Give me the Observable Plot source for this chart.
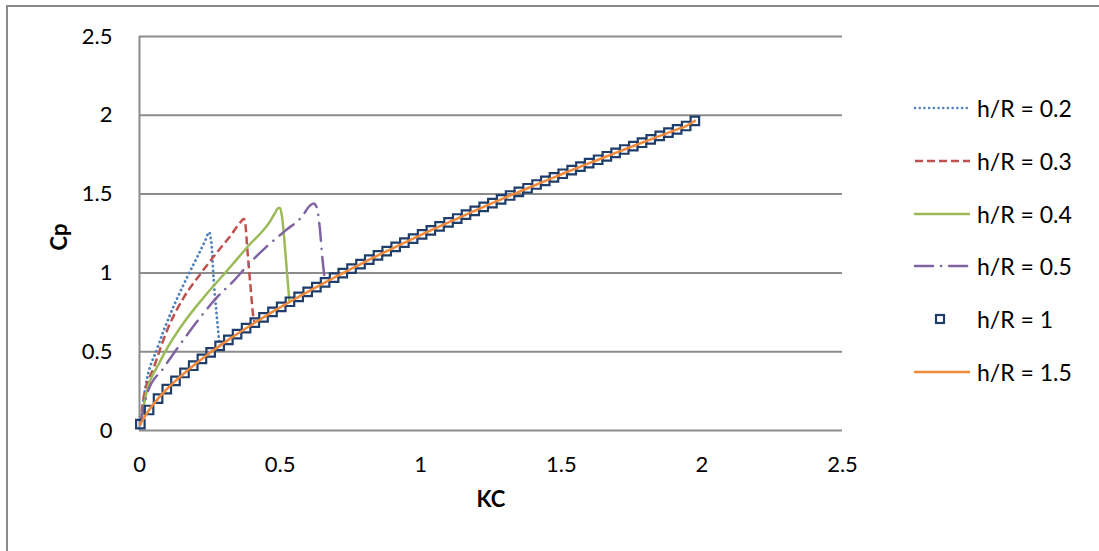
<!DOCTYPE html>
<html><head><meta charset="utf-8">
<script src="https://cdn.jsdelivr.net/npm/d3@7"></script>
<script src="https://cdn.jsdelivr.net/npm/@observablehq/plot@0.6"></script>
<style>
html,body{margin:0;padding:0;background:#fff;overflow:hidden;}
#wrap{position:relative;width:1099px;height:551px;font-family:Lato, sans-serif;}
#border{position:absolute;left:6px;top:5px;width:1200px;height:700px;border-left:2px solid #8a8a8a;border-top:2px solid #8a8a8a;pointer-events:none;}
#chart{position:absolute;left:0;top:0;}
.leg{position:absolute;left:910px;height:24px;display:flex;align-items:center;font-size:23px;color:#000;white-space:nowrap;}
.leg svg{display:block;}
.leg span{margin-left:7px;}
</style></head>
<body><div id="wrap"><div id="chart"></div><div id="legend"></div><div id="border"></div></div>
<script>
// ---- data ----
const xTicks = [0, 0.5, 1, 1.5, 2, 2.5];
const xTickLabels = ["0", "0.5", "1", "1.5", "2", "2.5"];
const yTicks = [0, 0.5, 1, 1.5, 2, 2.5];
const yTickLabels = ["0", "0.5", "1", "1.5", "2", "2.5"];

const seriesNames = ["h/R = 0.2", "h/R = 0.3", "h/R = 0.4", "h/R = 0.5", "h/R = 1", "h/R = 1.5"];

const kc02 = [0.003, 0.021, 0.063, 0.110, 0.158, 0.205, 0.235, 0.247, 0.256, 0.264, 0.274, 0.285];
const cp02 = [0.04, 0.275, 0.52, 0.74, 0.93, 1.10, 1.21, 1.258, 1.185, 0.95, 0.74, 0.537];

const kc03 = [0.003, 0.015, 0.051, 0.098, 0.158, 0.217, 0.276, 0.324, 0.359, 0.371, 0.377, 0.383, 0.395, 0.405, 0.410];
const cp03 = [0.04, 0.21, 0.40, 0.635, 0.846, 0.994, 1.131, 1.237, 1.322, 1.343, 1.30, 1.163, 0.91, 0.72, 0.682];

const kc04 = [0.003, 0.021, 0.075, 0.146, 0.229, 0.312, 0.383, 0.466, 0.482, 0.494, 0.500, 0.507, 0.520, 0.533];
const cp04 = [0.04, 0.21, 0.444, 0.655, 0.846, 1.015, 1.163, 1.332, 1.38, 1.412, 1.41, 1.354, 1.10, 0.82];

const kc05 = [0.003, 0.027, 0.087, 0.142, 0.217, 0.276, 0.335, 0.395, 0.454, 0.520, 0.579, 0.605, 0.619, 0.630, 0.642, 0.650, 0.660];
const cp05 = [0.04, 0.233, 0.40, 0.54, 0.72, 0.846, 0.95, 1.068, 1.17, 1.27, 1.36, 1.425, 1.44, 1.417, 1.27, 1.10, 0.94];

// h/R = 1 (markers) and h/R = 1.5 (line) share the same values
const kcMain = [0.003, 0.034, 0.066, 0.097, 0.128, 0.160, 0.191, 0.222, 0.253, 0.285,
  0.316, 0.347, 0.379, 0.410, 0.441, 0.473, 0.504, 0.535, 0.566, 0.598,
  0.629, 0.660, 0.692, 0.723, 0.754, 0.786, 0.817, 0.848, 0.879, 0.911,
  0.942, 0.973, 1.005, 1.036, 1.067, 1.099, 1.130, 1.161, 1.192, 1.224,
  1.255, 1.286, 1.318, 1.349, 1.380, 1.412, 1.443, 1.474, 1.505, 1.537,
  1.568, 1.599, 1.631, 1.662, 1.693, 1.724, 1.756, 1.787, 1.818, 1.850,
  1.881, 1.912, 1.944, 1.975];
const cpMain = [0.04, 0.13, 0.202, 0.262, 0.315, 0.365, 0.411, 0.454, 0.496, 0.537,
  0.575, 0.612, 0.649, 0.684, 0.718, 0.753, 0.785, 0.817, 0.848, 0.880,
  0.910, 0.940, 0.970, 0.999, 1.027, 1.056, 1.084, 1.111, 1.138, 1.165,
  1.192, 1.218, 1.244, 1.270, 1.295, 1.321, 1.345, 1.370, 1.394, 1.419,
  1.443, 1.467, 1.491, 1.514, 1.537, 1.561, 1.584, 1.606, 1.629, 1.652,
  1.674, 1.696, 1.718, 1.740, 1.762, 1.783, 1.805, 1.826, 1.847, 1.869,
  1.890, 1.911, 1.932, 1.965];

// ---- styles ----
const colors = ["#4F81BD", "#C0504D", "#9BBB59", "#8064A2", "#1F3D6B", "#F08A3A"];
const dashes = ["0.1 4.6", "8 4", null, "18 8 0.1 8", null, null];
const caps = ["round", "butt", "round", "round", "butt", "round"];

const toRows = (kc, cp) => kc.map((k, i) => ({kc: k, cp: cp[i]}));
const curves = [toRows(kc02, cp02), toRows(kc03, cp03), toRows(kc04, cp04), toRows(kc05, cp05)];
const mainRows = toRows(kcMain, cpMain);

const gridColor = "#8c8c8c";

const lineMarks = curves.map((rows, i) => Plot.line(rows, {
  x: "kc", y: "cp", stroke: colors[i], strokeWidth: i === 0 ? 2.8 : 2.5,
  strokeDasharray: dashes[i], strokeLinecap: caps[i], strokeLinejoin: "round", curve: "monotone-x"
}));

const chart = Plot.plot({
  width: 1099, height: 551,
  marginLeft: 139, marginRight: 257, marginTop: 36, marginBottom: 121,
  x: {domain: [0, 2.5]},
  y: {domain: [0, 2.5]},
  style: {fontFamily: "Lato, sans-serif", fontSize: "22px", color: "#000", background: "transparent", overflow: "visible"},
  marks: [
    Plot.ruleY(yTicks, {stroke: gridColor, strokeWidth: 2}),
    Plot.ruleX([0], {stroke: gridColor, strokeWidth: 2}),
    Plot.axisX({ticks: xTicks, tickSize: 0, tickPadding: 26, tickFormat: (d) => xTickLabels[xTicks.indexOf(d)], label: null, fontSize: 22}),
    Plot.axisY({ticks: yTicks, tickSize: 0, tickPadding: 27, tickFormat: (d) => yTickLabels[yTicks.indexOf(d)], label: null, fontSize: 22}),
    ...lineMarks,
    Plot.dot(mainRows, {x: "kc", y: "cp", symbol: "square", r: 4.8, stroke: colors[4], strokeWidth: 2.2, fill: "none"}),
    Plot.line(mainRows, {x: "kc", y: "cp", stroke: colors[5], strokeWidth: 2.5, curve: "monotone-x"}),
    Plot.text(["KC"], {frameAnchor: "bottom", dy: 76, fontWeight: "bold", fontSize: 22}),
    Plot.text(["Cp"], {frameAnchor: "left", dx: -80, dy: 17, rotate: -90, fontWeight: "bold", fontSize: 22})
  ]
});
document.getElementById("chart").appendChild(chart);

// ---- legend ----
const legend = document.getElementById("legend");
seriesNames.forEach((name, i) => {
  const row = document.createElement("div");
  row.className = "leg";
  row.style.top = (108 + 52.8 * i - 12) + "px";
  let sample;
  if (i === 4) {
    sample = `<rect x="26" y="8" width="8" height="8" fill="none" stroke="${colors[4]}" stroke-width="2.2"/>`;
  } else {
    sample = `<line x1="5" y1="12" x2="60" y2="12" stroke="${colors[i]}" stroke-width="2.5" stroke-linecap="${caps[i]}"${dashes[i] ? ` stroke-dasharray="${dashes[i]}"` : ""}/>`;
  }
  row.innerHTML = `<svg width="60" height="24">${sample}</svg><span>${name}</span>`;
  legend.appendChild(row);
});
</script>
</body></html>
